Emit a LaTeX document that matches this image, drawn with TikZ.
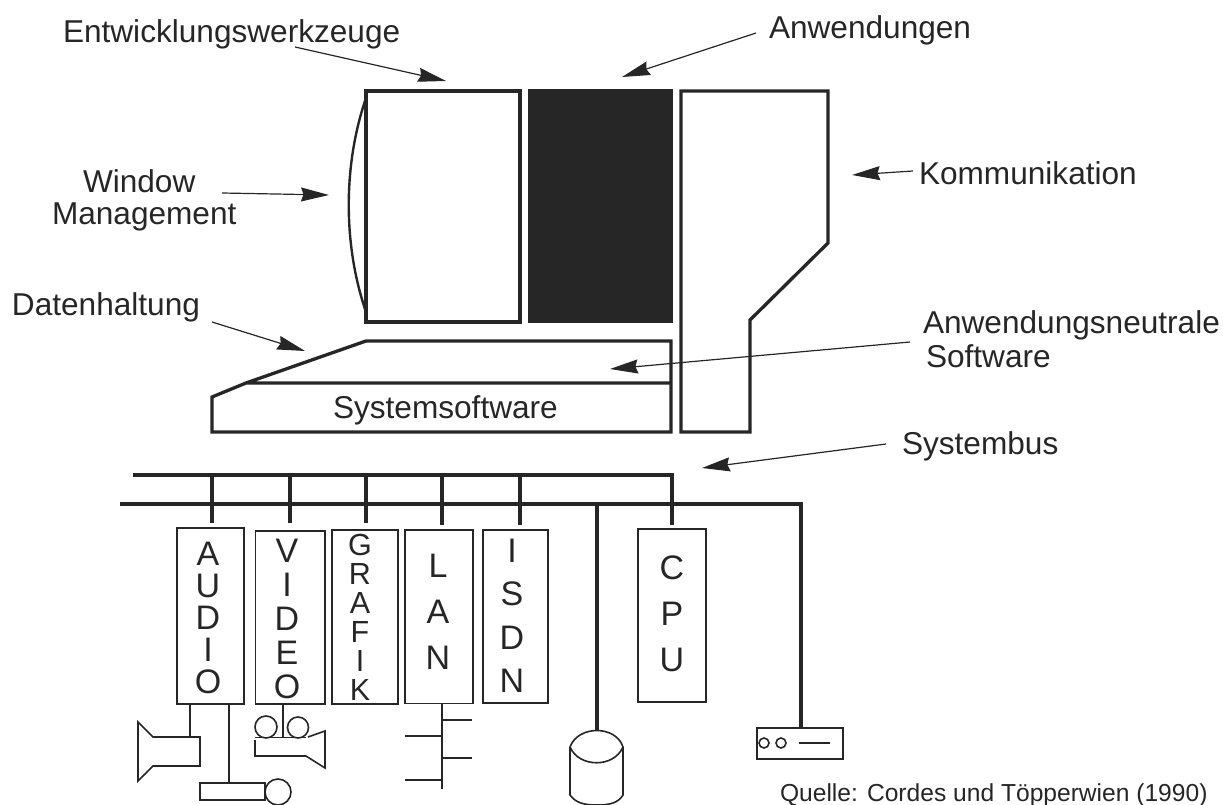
\documentclass[tikz,border=0pt]{standalone}
\usepackage{fontspec}
\setmainfont{Liberation Sans}
\usetikzlibrary{arrows.meta}
\definecolor{ink}{HTML}{262626}
\tikzset{
  heavy/.style={draw=ink,line width=3.3pt,line join=miter},
  busline/.style={draw=ink,line width=3.3pt},
  thin box/.style={draw=ink,line width=1.6pt,inner sep=0pt,outer sep=0pt},
  thinline/.style={draw=ink,line width=1.6pt},
  callout/.style={draw=ink,line width=1.2pt,-{Stealth[length=28pt,width=14pt,inset=2.5pt]}},
  lbl/.style={text=ink,font=\fontsize{31.6}{34}\selectfont,inner sep=0pt,outer sep=0pt,anchor=base west},
  stack/.style={text=ink,align=center,inner sep=0pt,outer sep=0pt},
}
\begin{document}
\begin{tikzpicture}[x=1pt,y=-1pt]
\useasboundingbox (0,0) rectangle (1223,805);
% monitor
\node[heavy,inner sep=0pt,outer sep=0pt,minimum width=154pt,minimum height=231pt] (tools) at (443,206.5) {};
\node[draw=ink,fill=ink,inner sep=0pt,outer sep=0pt,minimum width=144pt,minimum height=233pt,line width=1pt] (apps) at (600.5,206) {};
\coordinate (arcT) at (366,98);
\coordinate (arcB) at (366,312);
\draw[draw=ink,line width=2.4pt] (arcT) .. controls (343,165) and (343,245) .. (arcB);
\draw[heavy] (681,432) -- (681,91) -- (828,91) -- (828,243) -- (750,320) -- (750,432) -- cycle;
\draw[heavy] (246,383) -- (366,341) -- (671,341) -- (671,432) -- (212,432) -- (212,397) -- (246,383) -- (671,383);
\node[lbl] (sys) at (333,418) {Systemsoftware};
% buses
\coordinate (b1L) at (133,475);
\coordinate (b1R) at (672,475);
\coordinate (b1E) at (672,525);
\coordinate (b2L) at (120,504);
\coordinate (b2R) at (801,504);
\coordinate (b2E) at (801,728);
\draw[busline,line join=miter] (b1L) -- (b1R) -- (b1E);
\draw[busline,line join=miter] (b2L) -- (b2R) -- (b2E);
\coordinate (dA) at (212,523);
\coordinate (dV) at (290,523);
\coordinate (dG) at (366,523);
\coordinate (dL) at (442,525);
\coordinate (dI) at (520,525);
\foreach \d in {dA,dV,dG,dL,dI} \draw[busline] (\d |- b1L) -- (\d);
\coordinate (diskTop) at (597,731);
\draw[busline] (diskTop |- b2L) -- (diskTop);
% adapter boxes
\node[thin box,minimum width=67pt,minimum height=176pt] (audio) at (210.5,616) {};
\node[thin box,minimum width=69.5pt,minimum height=173pt] (video) at (290.25,617.5) {};
\node[thin box,minimum width=66pt,minimum height=174pt] (grafik) at (365,617) {};
\node[thin box,minimum width=68pt,minimum height=173.5pt] (lan) at (439,616.75) {};
\node[thin box,minimum width=65pt,minimum height=173pt] (isdn) at (515.5,616.5) {};
\node[thin box,minimum width=68pt,minimum height=173pt] (cpu) at (672,615.5) {};
\node[stack,font=\fontsize{34}{32}\selectfont] (taudio) at (208,617.7) {A\\U\\D\\I\\O};
\node[stack,font=\fontsize{34}{34}\selectfont] (tvideo) at (287,618.7) {V\\I\\D\\E\\O};
\node[stack,font=\fontsize{30.5}{29}\selectfont] (tgrafik) at (360,617.5) {G\\R\\A\\F\\I\\K};
\node[stack,font=\fontsize{34}{46}\selectfont] (tlan) at (438,611.7) {L\\A\\N};
\node[stack,font=\fontsize{34}{43.3}\selectfont] (tisdn) at (512,615.7) {I\\S\\D\\N};
\node[stack,font=\fontsize{34}{46}\selectfont] (tcpu) at (672,613.7) {C\\P\\U};
% speaker
\coordinate (spk) at (190,737);
\draw[thinline] (190,704) -- (spk);
\draw[thinline] (138,722) -- (153,737) -- (200,737) -- (200,766) -- (153,766) -- (138,781) -- cycle;
% microphone
\coordinate (mic) at (229,783);
\draw[thinline] (229,704) -- (mic);
\node[thin box,minimum width=65pt,minimum height=17pt] (micbody) at (232.5,791.5) {};
\node[thin box,circle,fill=white,minimum size=26pt] (michead) at (278,792) {};
% camera
\coordinate (cam) at (283,737);
\draw[thinline] (283,704) -- (cam);
\node[thin box,circle,minimum size=22pt] (reel1) at (266,727) {};
\node[thin box,circle,minimum size=21pt] (reel2) at (298,727.5) {};
\draw[thinline] (255,737.5) -- (306,737.5);
\draw[thinline] (255,740) -- (255,756) -- (306,756) -- (325,768) -- (325,731) -- (308,737);
% LAN stub
\coordinate (lanEnd) at (442,789);
\draw[thinline] (442,703) -- (lanEnd);
\draw[thinline] (442,720) -- (472,720);
\draw[thinline] (442,736) -- (405,736);
\draw[thinline] (442,758) -- (472,758);
\draw[thinline] (442,780) -- (405,780);
% disk
\draw[thinline] (570,747) .. controls (578,725) and (616,725) .. (623,747) .. controls (614,768) and (579,768) .. (570,747);
\draw[thinline] (570,747) -- (570,795) .. controls (576,803) and (584,805) .. (597,805) .. controls (610,805) and (618,803) .. (623,795) -- (623,747);
% device
\node[thin box,minimum width=86pt,minimum height=31pt] (dev) at (800,743.5) {};
\node[thin box,circle,minimum size=10pt] (led1) at (764,743) {};
\node[thin box,circle,minimum size=10pt] (led2) at (781,743) {};
\draw[thinline] (799,743) -- (830,743);
% labels
\node[lbl] (entw) at (63,43) {Entwicklungswerkzeuge};
\node[lbl] (anw) at (769,39) {Anwendungen};
\node[lbl] (komm) at (919,185) {Kommunikation};
\node[lbl] (win1) at (83,193) {Window};
\node[lbl] (win2) at (52,224) {Management};
\node[lbl] (daten) at (12,315) {Datenhaltung};
\node[lbl] (neutral1) at (923,333) {Anwendungsneutrale};
\node[lbl] (neutral2) at (926,367) {Software};
\node[lbl] (sbus) at (902,454) {Systembus};
\node[lbl,font=\fontsize{24.6}{28}\selectfont] (quelle) at (780,801) {Quelle: Cordes und Töpperwien (1990)};
% callouts
\coordinate (sEntw) at (295,47);   \coordinate (tEntw) at (446,81);
\coordinate (sAnw) at (756,33);    \coordinate (tAnw) at (622,77);
\coordinate (sKomm) at (913,171);  \coordinate (tKomm) at (852,175);
\coordinate (sWin) at (222,193);   \coordinate (tWin) at (329,195);
\coordinate (sDaten) at (212,322); \coordinate (tDaten) at (305,351);
\coordinate (sNeutral) at (910,342); \coordinate (tNeutral) at (610,369);
\coordinate (sBus) at (886,444);   \coordinate (tBus) at (702,468);
\draw[callout] (sEntw) -- (tEntw);
\draw[callout] (sAnw) -- (tAnw);
\draw[callout] (sKomm) -- (tKomm);
\draw[callout] (sWin) -- (tWin);
\draw[callout] (sDaten) -- (tDaten);
\draw[callout] (sNeutral) -- (tNeutral);
\draw[callout] (sBus) -- (tBus);
\end{tikzpicture}
\end{document}
